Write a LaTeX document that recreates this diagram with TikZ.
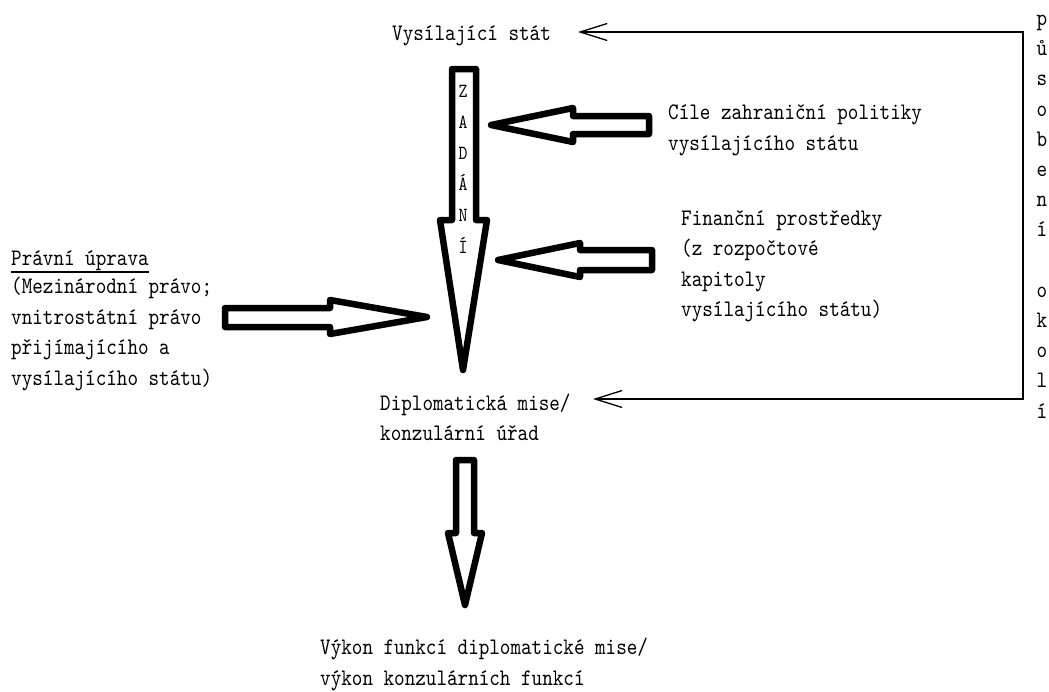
\documentclass[tikz,border=0pt]{standalone}
\usepackage{fontspec}
\usetikzlibrary{arrows.meta}
\newfontfamily\monofnt{lmmono10-regular.otf}[FakeStretch=0.85]
\begin{document}
\begin{tikzpicture}[x=1pt,y=-1pt,
  txt/.style={font=\monofnt\fontsize{23.7}{30.5}\selectfont, inner sep=0pt, anchor=base west, align=left},
  vtxt/.style={font=\monofnt\fontsize{23.7}{30.2}\selectfont, inner sep=0pt, anchor=base, align=center},
  ztxt/.style={font=\monofnt\fontsize{20}{31.2}\selectfont, inner sep=0pt, anchor=base, align=center},
  blockarrow/.style={draw=black, line width=6.5pt, line join=round, fill=white},
  thinarrow/.style={draw=black, line width=1.3pt, line join=miter,
    {Straight Barb[length=27pt,width=17pt,line width=1.3pt]}-{Straight Barb[length=27pt,width=17pt,line width=1.3pt]}}
]
\useasboundingbox (0,0) rectangle (1049,691);
\fill[white] (0,0) rectangle (1049,691);

% texts (anchor = baseline of the last line)
\node[txt] (vs) at (392,40.5) {Vysílající stát};
\node[txt] (cile) at (668,150) {Cíle zahraniční politiky\\vysílajícího státu};
\node[txt] (fin) at (681,316.5) {Finanční prostředky\\(z rozpočtové\\kapitoly\\vysílajícího státu)};
\node[txt] (pu) at (11,265) {Právní úprava};
\node[txt] (pu2) at (11,385) {(Mezinárodní právo;\\vnitrostátní právo\\přijímajícího a\\vysílajícího státu)};
\node[txt] (dm) at (380,440.5) {Diplomatická mise/\\konzulární úřad};
\node[txt] (vf) at (320,685) {Výkon funkcí diplomatické mise/\\výkon konzulárních funkcí};
\node[vtxt] (okoli) at (1042,418) {p\\ů\\s\\o\\b\\e\\n\\í\\\mbox{}\\o\\k\\o\\l\\í};

\draw[line width=1.2pt] ([yshift=-7pt]pu.base west) -- ([yshift=-7pt]pu.base east);

% block arrows
\draw[blockarrow] (452,69) -- (476,69) -- (476,220) -- (487,220) -- (463,370) -- (440,220) -- (452,220) -- cycle;
\draw[blockarrow] (491,125) -- (573,108) -- (573,116) -- (649,116) -- (649,134) -- (573,134) -- (573,142) -- cycle;
\draw[blockarrow] (498,260) -- (580,243) -- (580,250) -- (652,250) -- (652,270) -- (580,270) -- (580,277) -- cycle;
\draw[blockarrow] (225,308) -- (330,308) -- (330,300) -- (427,317) -- (330,334) -- (330,327) -- (225,327) -- cycle;
\draw[blockarrow] (456,460) -- (474,460) -- (474,533) -- (482,533) -- (465,605) -- (448,533) -- (456,533) -- cycle;

\node[ztxt] (zad) at (463,253) {Z\\A\\D\\Á\\N\\Í};

% thin connector
\coordinate (t1) at (578,32);
\coordinate (c1) at (1023,32);
\coordinate (c2) at (1023,399);
\coordinate (t2) at (593,399);
\draw[thinarrow] (t1) -- (c1) -- (c2) -- (t2);
\end{tikzpicture}
\end{document}
